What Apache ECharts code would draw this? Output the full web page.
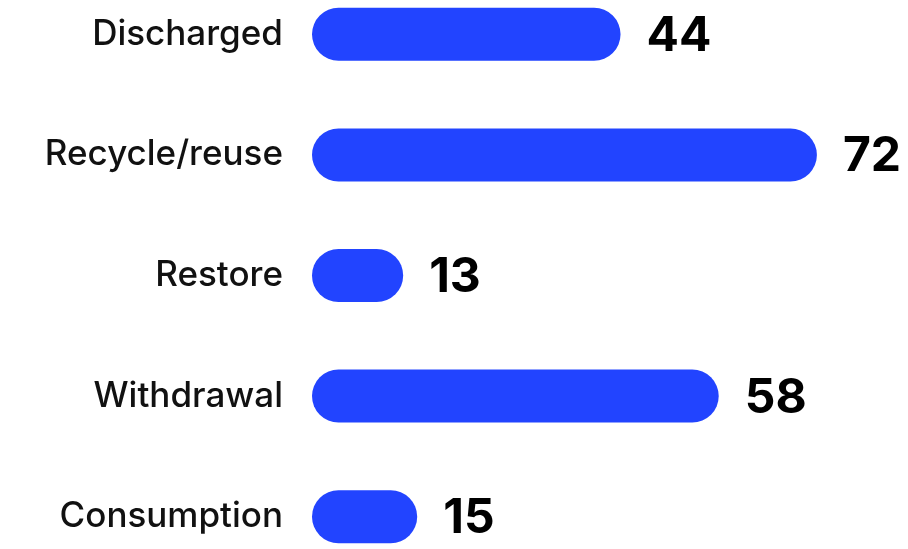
<!DOCTYPE html>
<html>
<head>
<meta charset="utf-8">
<script src="https://cdn.jsdelivr.net/npm/echarts@6/dist/echarts.min.js"></script>
<style>
  html, body { margin: 0; padding: 0; background: #ffffff; }
  #chart { width: 908px; height: 549px; }
</style>
</head>
<body>
<div id="chart"></div>
<script>
// Water flow categories, listed top to bottom
const categories = ['Discharged', 'Recycle/reuse', 'Restore', 'Withdrawal', 'Consumption'];
const values = [44, 72, 13, 58, 15];

const chart = echarts.init(document.getElementById('chart'), null, { renderer: 'canvas' });

chart.setOption({
  animation: false,
  backgroundColor: '#ffffff',
  grid: {
    left: 312, right: 35, top: -26, bottom: -28,
    containLabel: false,
    outerBoundsMode: 'none'
  },
  xAxis: {
    type: 'value',
    min: 0,
    max: 80,
    show: false
  },
  yAxis: {
    type: 'category',
    inverse: true,
    data: categories,
    axisLine: { show: false },
    axisTick: { show: false },
    splitLine: { show: false },
    axisLabel: {
      margin: 29,
      color: '#111111',
      fontFamily: 'Inter',
      fontSize: 35,
      fontWeight: 500
    }
  },
  series: [{
    type: 'bar',
    data: values,
    barWidth: 53,
    itemStyle: { color: '#2244FF', borderRadius: 26.5 },
    label: {
      show: true,
      position: 'right',
      distance: 26,
      offset: [0, 2],
      color: '#000000',
      fontFamily: 'Inter',
      fontWeight: 'bold',
      fontSize: 48
    }
  }]
});
</script>
</body>
</html>
